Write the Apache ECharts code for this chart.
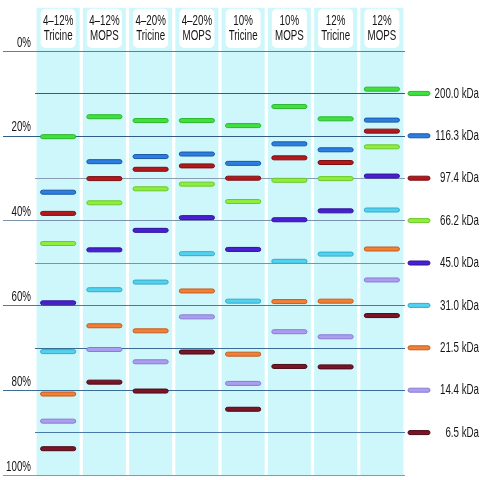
<!DOCTYPE html>
<html>
<head>
<meta charset="utf-8">
<script src="https://cdn.jsdelivr.net/npm/echarts@6/dist/echarts.min.js"></script>
<style>html,body{margin:0;padding:0;background:#fff;}#c{width:481px;height:480px;}</style>
</head>
<body>
<div id="c"></div>
<script>
// ---- data ----
var laneGels = ['4–12%', '4–12%', '4–20%', '4–20%', '10%', '10%', '12%', '12%'];
var laneBuffers = ['Tricine', 'MOPS', 'Tricine', 'MOPS', 'Tricine', 'MOPS', 'Tricine', 'MOPS'];
var markerLabels = ['200.0 kDa', '116.3 kDa', '97.4 kDa', '66.2 kDa', '45.0 kDa', '31.0 kDa', '21.5 kDa', '14.4 kDa', '6.5 kDa'];
var markerPos = [10, 20, 30, 40, 50, 60, 70, 80, 90];
// migration (% of gel length) per marker protein, one value per lane
var band200 = [20.2, 15.5, 16.4, 16.4, 17.6, 13.1, 16.0, 9.0];
var band116 = [33.3, 26.1, 24.9, 24.3, 26.5, 21.9, 23.3, 16.3];
var band97 = [38.3, 30.1, 27.9, 27.1, 30.0, 25.2, 26.3, 18.9];
var band66 = [45.4, 35.8, 32.5, 31.4, 35.5, 30.5, 30.1, 22.6];
var band45 = [59.4, 46.9, 42.3, 39.3, 46.8, 39.8, 37.7, 29.5];
var band31 = [70.9, 56.3, 54.5, 47.8, 59.0, 49.6, 47.9, 37.5];
var band21 = [80.9, 64.8, 66.0, 56.6, 71.5, 59.1, 59.0, 46.7];
var band14 = [87.3, 70.4, 73.3, 62.7, 78.4, 66.2, 67.4, 54.0];
var band6 = [93.8, 78.1, 80.2, 71.0, 84.5, 74.4, 74.5, 62.4];
var axisTicks = [0, 20, 40, 60, 80, 100];

var bandSets = [band200, band116, band97, band66, band45, band31, band21, band14, band6];
var fills = ['#3fe03f', '#2b7fe0', '#b3191c', '#8eee3c', '#4a1fd4', '#52d2ef', '#f27f36', '#ab9df0', '#7b1426'];
var strokes = ['#2cb82c', '#1b56a8', '#7c0f12', '#6dc72b', '#2d1596', '#36a9c9', '#c45c1e', '#8a7bd2', '#4c0a16'];
var FONT = '"Liberation Sans", Arial, sans-serif';
var SX = 0.65;

var chart = echarts.init(document.getElementById('c'), null, {renderer: 'canvas'});

function laneRender(params, api) {
  var i = api.value(0);
  var cx = api.coord([i, 0])[0];
  var bw = api.size([1, 0])[0];
  var w = bw * 0.93;
  var top = api.coord([i, -10.2])[1];
  var bot = api.coord([i, 100])[1];
  var hb = api.coord([i, -0.7])[1];
  return {
    type: 'group',
    children: [
      {type: 'rect', shape: {x: cx - w / 2, y: top, width: w, height: bot - top}, style: {fill: '#cdf7fb'}},
      {type: 'rect', shape: {x: cx - w / 2 + 4, y: top + 1, width: w - 8, height: hb - top - 1, r: 5}, style: {fill: '#ffffff'}},
      {type: 'text', x: cx, y: (top + hb) / 2 + 0.5, scaleX: SX,
        style: {text: laneGels[i] + '\n' + laneBuffers[i], x: 0, y: 0,
        align: 'center', verticalAlign: 'middle', font: '15px ' + FONT, lineHeight: 15.5, fill: '#151515'}}
    ]
  };
}

function bandRender(k) {
  return function (params, api) {
    var i = api.value(0);
    var p = api.coord([i, api.value(1)]);
    var bw = api.size([1, 0])[0] * 0.76;
    var h = 4;
    return {type: 'rect', shape: {x: p[0] - bw / 2, y: p[1] - h / 2, width: bw, height: h, r: 2},
      style: {fill: fills[k], stroke: strokes[k], lineWidth: 1}};
  };
}

function markerRender(params, api) {
  var k = params.dataIndex;
  var p = api.coord([7, api.value(0)]);
  var bw = api.size([1, 0])[0];
  var x0 = p[0] + bw / 2 + 3;
  return {
    type: 'group',
    children: [
      {type: 'rect', shape: {x: x0, y: p[1] - 2, width: 22, height: 4, r: 2},
        style: {fill: fills[k], stroke: strokes[k], lineWidth: 1}},
      {type: 'text', x: 479, y: p[1], scaleX: SX,
        style: {text: markerLabels[k], x: 0, y: 0, align: 'right', verticalAlign: 'middle',
        font: '15px ' + FONT, fill: '#151515'}}
    ]
  };
}

function tickRender(params, api) {
  var v = api.value(0);
  var p = api.coord([0, v]);
  var bw = api.size([1, 0])[0];
  return {type: 'text', x: p[0] - bw / 2 - 4, y: p[1] - 1, scaleX: SX,
    style: {text: v + '%', x: 0, y: 0, align: 'right', verticalAlign: 'bottom', font: '15px ' + FONT, fill: '#151515'}};
}

var lineColors = ['#4f82bd', '#2f5d86', '#2f5d86', '#8a9db2', '#7a92ab', '#7a92ab', '#4a79a9', '#3d6b98', '#3d6b98', '#4a79a9', '#6b9fd2'];
var longColors = ['#4f82bd', '#2f5d86', '#7a92ab', '#4a79a9', '#3d6b98', '#6b9fd2'];

var series = [{
  type: 'custom', xAxisIndex: 0, yAxisIndex: 0, z: 1, clip: false,
  data: laneGels.map(function (g, i) { return [i]; }),
  renderItem: laneRender, silent: true
}];
bandSets.forEach(function (set, k) {
  series.push({
    type: 'custom', xAxisIndex: 0, yAxisIndex: 0, z: 5, clip: false,
    data: set.map(function (v, i) { return [i, v]; }),
    renderItem: bandRender(k), silent: true
  });
});
series.push({
  type: 'custom', xAxisIndex: 0, yAxisIndex: 0, z: 5, clip: false,
  data: markerPos.map(function (v) { return [v]; }),
  encode: {y: 0},
  renderItem: markerRender, silent: true
});
series.push({
  type: 'custom', xAxisIndex: 0, yAxisIndex: 0, z: 5, clip: false,
  data: axisTicks.map(function (v) { return [v]; }),
  encode: {y: 0},
  renderItem: tickRender, silent: true
});

chart.setOption({
  animation: false,
  backgroundColor: '#ffffff',
  grid: [
    {left: 35, right: 76, top: 51, bottom: 5, z: 3, outerBoundsMode: 'none', containLabel: false},
    {left: 3, right: 76, top: 51, bottom: 5, z: 2, outerBoundsMode: 'none', containLabel: false}
  ],
  xAxis: [
    {type: 'category', gridIndex: 0, data: laneGels.map(function (g, i) { return 'L' + i; }), boundaryGap: true, show: false},
    {type: 'value', gridIndex: 1, min: 0, max: 1, show: false}
  ],
  yAxis: [
    {type: 'value', gridIndex: 0, inverse: true, min: 0, max: 100, interval: 10, z: 3,
      axisLine: {show: false}, axisTick: {show: false}, axisLabel: {show: false},
      splitLine: {show: true, lineStyle: {color: lineColors, width: 1}}},
    {type: 'value', gridIndex: 1, inverse: true, min: 0, max: 100, interval: 20, z: 2,
      axisLine: {show: false}, axisTick: {show: false}, axisLabel: {show: false},
      splitLine: {show: true, lineStyle: {color: longColors, width: 1}}}
  ],
  series: series
});
</script>
</body>
</html>
